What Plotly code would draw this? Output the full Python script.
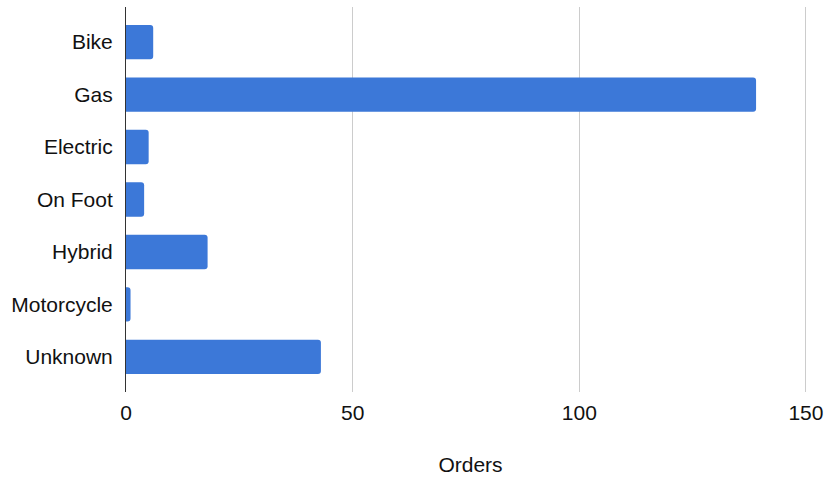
import plotly.graph_objects as go

categories = ["Bike", "Gas", "Electric", "On Foot", "Hybrid", "Motorcycle", "Unknown"]
orders = [6, 139, 5, 4, 18, 1, 43]
x_ticks = [0, 50, 100, 150]

fig = go.Figure(
    go.Bar(
        x=orders,
        y=categories,
        orientation="h",
        marker=dict(color="#3c78d8", cornerradius=3, line=dict(width=0)),
    )
)

fig.update_layout(
    width=828,
    height=477,
    margin=dict(l=126, r=13, t=7, b=85, autoexpand=False),
    paper_bgcolor="white",
    plot_bgcolor="white",
    bargap=0.345,
    showlegend=False,
    font=dict(family="Liberation Sans, Arial, sans-serif", size=21, color="#111111"),
)

fig.update_xaxes(
    range=[0, 152],
    tickvals=x_ticks,
    showgrid=True,
    gridcolor="#cccccc",
    gridwidth=1,
    zeroline=False,
    showline=False,
    ticks="",
    ticklabelstandoff=6,
    automargin=False,
    title=dict(text="Orders", standoff=34, font=dict(size=21)),
)

fig.update_yaxes(
    categoryorder="array",
    categoryarray=categories,
    range=[6.67, -0.67],
    showgrid=False,
    zeroline=False,
    showline=True,
    linecolor="#333333",
    linewidth=1,
    ticks="",
    ticklabelstandoff=8,
    automargin=False,
)

fig.write_html("out.html")
